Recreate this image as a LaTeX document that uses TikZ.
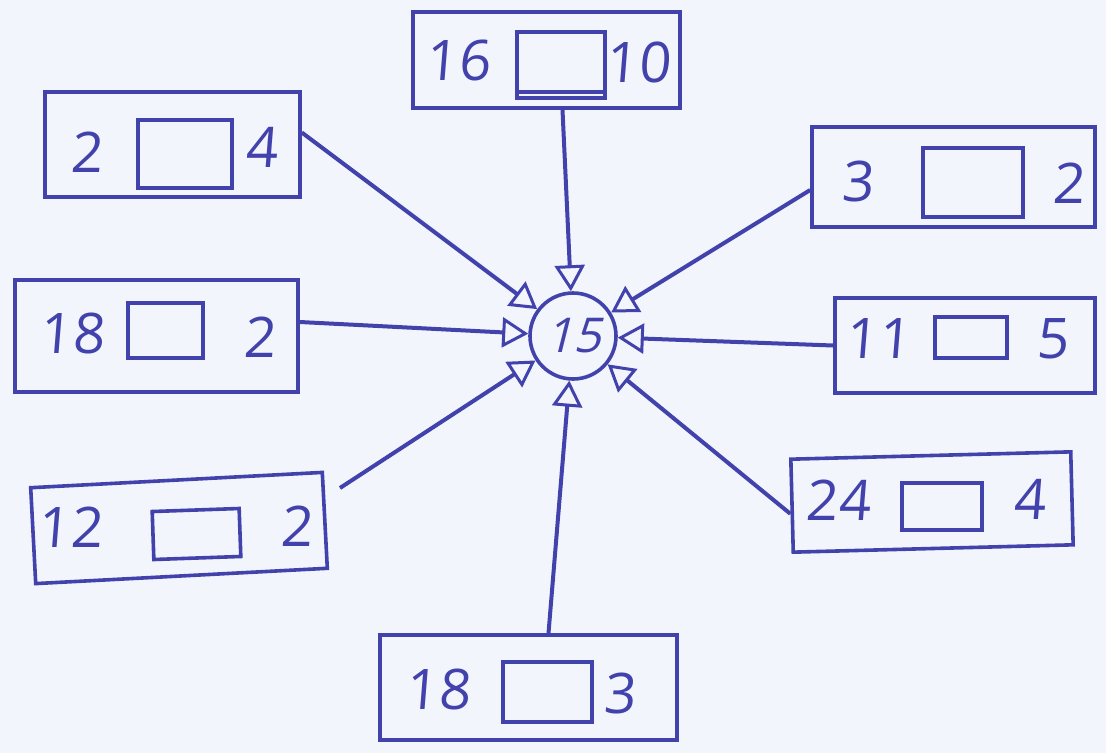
\documentclass[tikz,border=0pt]{standalone}
\usepackage{fontspec}
\setmainfont{Open Sans}
\usetikzlibrary{arrows.meta,calc}
\definecolor{ink}{RGB}{66,66,172}
\definecolor{paper}{RGB}{243,245,252}
\begin{document}
\begin{tikzpicture}[x=1pt,y=-1pt,
  outer/.style={draw=ink,line width=3.6pt,rectangle,inner sep=0pt},
  inner/.style={draw=ink,line width=3.6pt,rectangle,inner sep=0pt},
  num/.style={text=ink,font=\fontsize{56}{60}\selectfont\addfontfeature{FakeSlant=0.08}},
  conn/.style={draw=ink,line width=4pt,-{Triangle[open,length=26pt,width=30pt,line width=3pt]}}]
\fill[paper] (0,0) rectangle (1106,753);
\useasboundingbox (0,0) rectangle (1106,753);

% boxes
\node[outer,minimum width=267pt,minimum height=96pt] (topb) at (546.5,60) {};
\node[outer,minimum width=255pt,minimum height=105pt] (tl) at (172.5,144.5) {};
\node[outer,minimum width=283pt,minimum height=100pt] (rt) at (953.5,177) {};
\node[outer,minimum width=283pt,minimum height=112pt] (lm) at (156.5,336) {};
\node[outer,minimum width=260pt,minimum height=95pt] (rm) at (965,345.5) {};
\node[outer,minimum width=292pt,minimum height=96pt,rotate=3] (lb) at (179,528) {};
\node[outer,minimum width=280pt,minimum height=93pt,rotate=1.5] (rb) at (932,502) {};
\node[outer,minimum width=297pt,minimum height=105pt] (bot) at (528.5,687.5) {};

% inner squares
\node[inner,minimum width=88pt,minimum height=66pt] (itop) at (561,65) {};
\draw[ink,line width=3.6pt] ($(itop.south west)+(0,-8)$) coordinate (itl) -- ($(itop.south east)+(0,-8)$) coordinate (itr);
\node[inner,minimum width=94pt,minimum height=68pt] (itl2) at (185,154) {};
\node[inner,minimum width=100pt,minimum height=69pt] (irt) at (973,182.5) {};
\node[inner,minimum width=75pt,minimum height=55pt] (ilm) at (165.5,330.5) {};
\node[inner,minimum width=72pt,minimum height=41pt] (irm) at (971,337.5) {};
\node[inner,minimum width=87pt,minimum height=48pt,rotate=2] (ilb) at (196.5,534) {};
\node[inner,minimum width=80pt,minimum height=47pt] (irb) at (942,506.5) {};
\node[inner,minimum width=89pt,minimum height=60pt] (ibot) at (547.5,692) {};

% numbers
\node[num] (t1) at (458,60) {16};
\node[num] (t2) at (638,62) {10};
\node[num] (tl1) at (87,152) {2};
\node[num] (tl2) at (262,147) {4};
\node[num] (rt1) at (858,181) {3};
\node[num] (rt2) at (1068,183) {2};
\node[num] (lm1) at (72,333) {18};
\node[num] (lm2) at (260,337) {2};
\node[num] (rm1) at (878,339) {11};
\node[num] (rm2) at (1052,339) {5};
\node[num] (lb1) at (70,527) {12};
\node[num] (lb2) at (297,526) {2};
\node[num] (rb1) at (838,500) {24};
\node[num] (rb2) at (1029,499) {4};
\node[num] (b1) at (438,689) {18};
\node[num] (b2) at (620,693) {3};

% centre
\node[draw=ink,line width=3.6pt,circle,minimum size=86pt,inner sep=0pt,
      text=ink,font=\fontsize{48}{52}\selectfont\addfontfeature{FakeSlant=0.25}] (c) at (573,336) {15};

% connectors
\coordinate (lbfree) at (340,488);
\draw[conn] ($(topb.south)+(16,0)$) -- (c);
\draw[conn] ($(tl.east)+(0,-12)$) -- (c);
\draw[conn] ($(rt.west)+(0,13)$) -- (c);
\draw[conn] ($(lm.east)+(0,-14)$) -- (c);
\draw[conn] (rm.west) -- (c);
\draw[conn] (lbfree) -- (c);
\draw[conn] ($(rb.west)+(0,8)$) -- (c);
\draw[conn] ($(bot.north)+(20,0)$) -- (c);
\end{tikzpicture}
\end{document}
